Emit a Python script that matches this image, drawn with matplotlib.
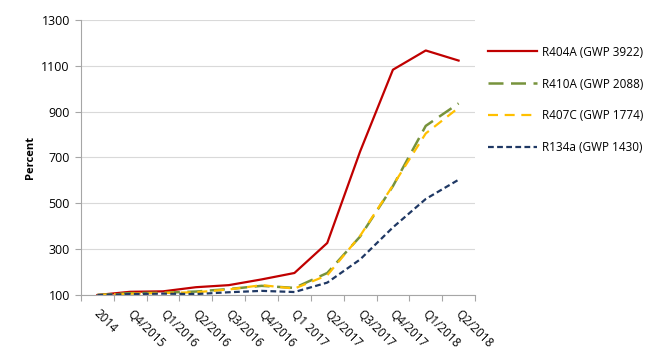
import matplotlib
matplotlib.use("Agg")
import matplotlib.pyplot as plt
import numpy as np

categories = ["2014", "Q4/2015", "Q1/2016", "Q2/2016", "Q3/2016", "Q4/2016",
              "Q1 2017", "Q2/2017", "Q3/2017", "Q4/2017", "Q1/2018", "Q2/2018"]
r404a = [100, 114, 116, 134, 143, 168, 196, 327, 726, 1083, 1167, 1123]
r410a = [100, 108, 110, 115, 126, 140, 131, 196, 355, 575, 838, 936]
r407c = [100, 106, 109, 112, 124, 143, 128, 186, 358, 578, 805, 917]
r134a = [100, 104, 106, 104, 112, 118, 113, 154, 255, 395, 519, 603]
labels = ["R404A (GWP 3922)", "R410A (GWP 2088)", "R407C (GWP 1774)", "R134a (GWP 1430)"]
yticks = [100, 300, 500, 700, 900, 1100, 1300]

plt.rcParams['font.family'] = ['Open Sans', 'DejaVu Sans']

fig = plt.figure(figsize=(6.72, 3.56), dpi=100)
ax = fig.add_axes([81/672, 1-295/356, (475-81)/672, (295-20)/356])

x = np.arange(len(categories))
ax.plot(x, r404a, color="#C00000", lw=1.6, ls="-", label=labels[0])
ax.plot(x, r410a, color="#77933C", lw=1.8, ls=(0, (6, 3)), label=labels[1])
ax.plot(x, r407c, color="#FFC000", lw=1.6, ls=(0, (4.5, 3)), label=labels[2])
ax.plot(x, r134a, color="#1F3864", lw=1.6, ls=(0, (2.6, 1.5)), label=labels[3])

ax.set_xlim(-0.5, len(categories) - 0.5)
ax.set_ylim(100, 1300)
ax.set_yticks(yticks)
ax.set_yticklabels([str(v) for v in yticks], fontsize=9)
ax.yaxis.grid(True, color="#D9D9D9", lw=0.8)
ax.set_axisbelow(True)

ax.set_xticks(np.arange(len(categories) + 1) - 0.5)
ax.set_xticklabels([])
ax.tick_params(axis="x", length=4, color="#A6A6A6", direction="out")
ax.tick_params(axis="y", length=4, color="#A6A6A6", direction="out", pad=4)
for i, c in enumerate(categories):
    ax.annotate(c, xy=(i, 100), xycoords="data", xytext=(-1, -12), textcoords="offset points",
                rotation=-45, rotation_mode="anchor", ha="left", va="center", fontsize=8.5)

for s in ["top", "right"]:
    ax.spines[s].set_visible(False)
ax.spines["left"].set_color("#A6A6A6")
ax.spines["bottom"].set_color("#A6A6A6")

ax.set_ylabel("Percent", fontsize=8, fontweight="bold", labelpad=4)

handles, lbls = ax.get_legend_handles_labels()
fig.legend(handles, lbls, loc="upper left", bbox_to_anchor=(477/672, 1-35/356), frameon=False,
           fontsize=8.5, handlelength=4.2, labelspacing=1.6, handletextpad=0.4)

fig.savefig("out.png", dpi=100)
